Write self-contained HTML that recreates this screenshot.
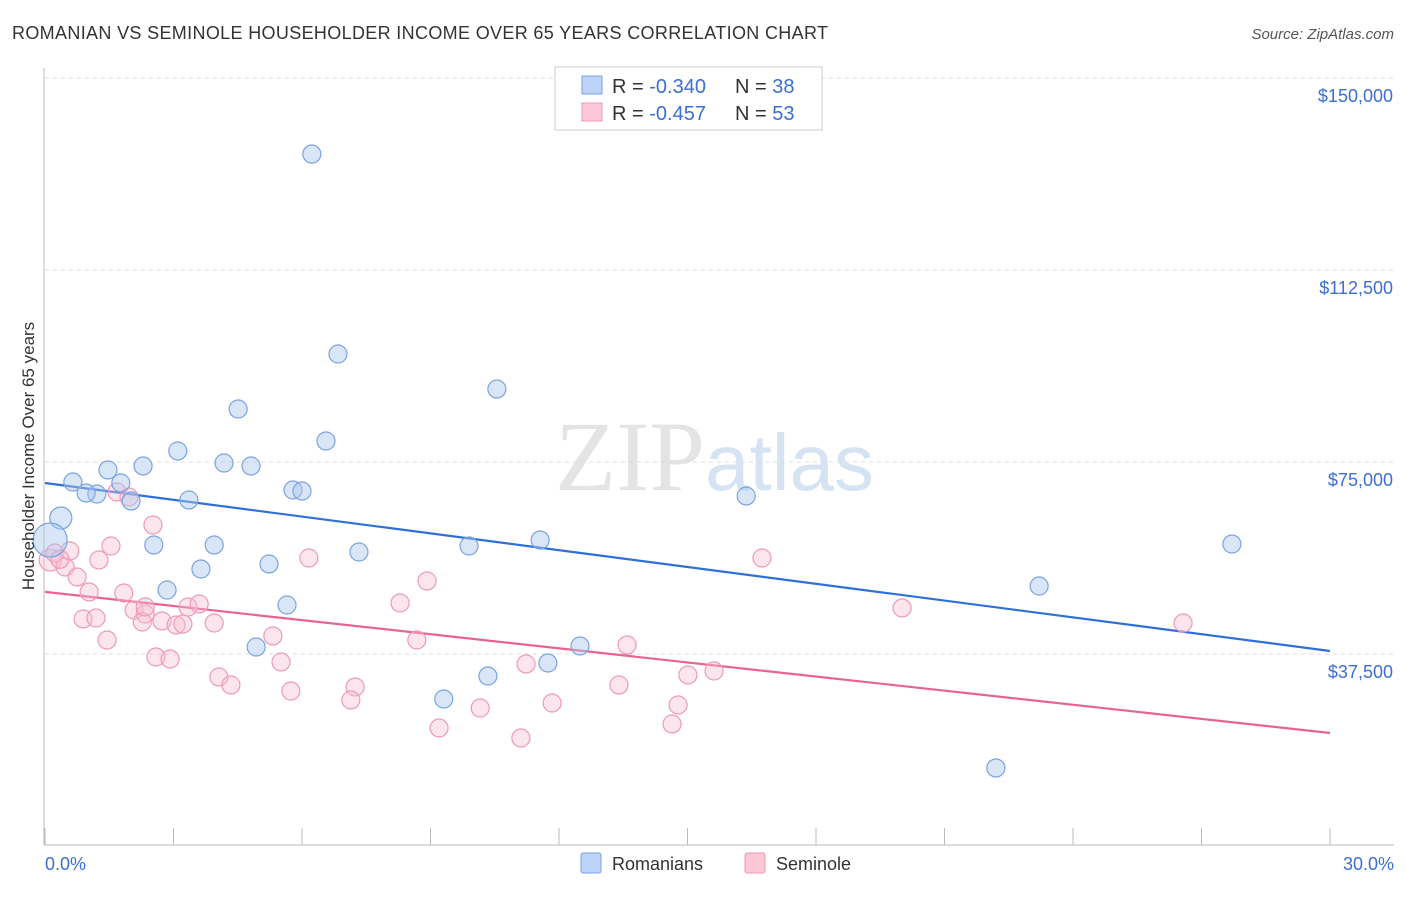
<!DOCTYPE html>
<html><head><meta charset="utf-8"><style>
body{margin:0;background:#fff;font-family:"Liberation Sans",sans-serif;}
</style></head><body>
<svg id="chart" width="1406" height="892" xmlns="http://www.w3.org/2000/svg">
<text x="12" y="39" font-size="18" fill="#333" textLength="816">ROMANIAN VS SEMINOLE HOUSEHOLDER INCOME OVER 65 YEARS CORRELATION CHART</text>
<text x="1394" y="39" font-size="15" fill="#555" font-style="italic" text-anchor="end">Source: ZipAtlas.com</text>
<text x="555" y="490" font-size="100" fill="#e4e4e4" font-family="Liberation Serif,serif">ZIP<tspan fill="#d5e3f3" font-family="Liberation Sans,sans-serif" font-size="80">atlas</tspan></text>
<g id="grid"></g>
<g id="axes"></g>
<g id="lines"></g>
<g id="pts"></g>
<text transform="translate(34,456) rotate(-90)" font-size="17" fill="#333" text-anchor="middle">Householder Income Over 65 years</text>
<text x="45" y="870" font-size="18" fill="#3b6fd4">0.0%</text>
<text x="1394" y="870" font-size="18" fill="#3b6fd4" text-anchor="end">30.0%</text>
<g>
<rect x="555" y="67" width="267" height="63" fill="#fff" stroke="#ccc"/>
<rect x="582" y="76" width="20" height="18" fill="#bcd4f5" stroke="#7aa3e0"/>
<rect x="582" y="103" width="20" height="18" fill="#fbc8d8" stroke="#ee9ab5"/>
<text x="612" y="93" font-size="20" fill="#333">R = <tspan fill="#3b6fd4">-0.340</tspan><tspan x="735">N = </tspan><tspan fill="#3b6fd4">38</tspan></text>
<text x="612" y="120" font-size="20" fill="#333">R = <tspan fill="#3b6fd4">-0.457</tspan><tspan x="735">N = </tspan><tspan fill="#3b6fd4">53</tspan></text>
</g>
<g>
<rect x="581" y="853" width="20" height="20" fill="#bcd4f5" stroke="#7aa3e0" rx="2"/>
<text x="612" y="870" font-size="18" fill="#333">Romanians</text>
<rect x="745" y="853" width="20" height="20" fill="#fbc8d8" stroke="#ee9ab5" rx="2"/>
<text x="776" y="870" font-size="18" fill="#333">Seminole</text>
</g>
</svg>
<script>
const yTicks=[37500,75000,112500,150000];
const yTickLabels=["$37,500","$75,000","$112,500","$150,000"];
const xTicks=[0,3,6,9,12,15,18,21,24,27,30];
const blueX=[6.23,6.84,10.55,4.51,6.56,3.10,4.18,4.81,2.29,1.47,0.65,1.77,1.21,0.96,5.79,6.00,3.36,2.01,16.37,0.37,0.12,2.54,3.95,9.90,11.56,27.71,7.33,3.64,5.23,2.85,23.21,5.65,4.93,12.49,11.74,10.34,9.31,22.20];
const blueY=[135150,96090,89250,85350,79100,77150,74800,74220,74220,73440,71090,70900,68750,68950,69530,69330,67580,67380,68360,64060,59760,58790,58790,58590,59760,58980,57420,54100,55080,50000,50780,47070,38870,39060,35740,33200,28710,15240];
const pinkX=[0.12,0.23,0.58,0.47,0.75,1.26,1.54,1.03,1.84,1.68,1.96,2.52,0.89,1.19,1.45,2.08,2.34,2.27,2.73,3.06,3.22,3.34,3.60,3.95,2.59,2.92,5.32,5.51,4.06,4.34,5.74,6.16,7.24,7.14,8.29,8.92,8.68,9.20,10.16,11.23,11.11,11.84,13.59,13.40,15.01,15.62,14.78,14.64,16.74,20.01,26.57,0.35,2.34];
const pinkY=[55860,57230,57620,54490,52540,55860,58590,49610,49410,69140,68160,62700,44340,44530,40230,46090,45310,43750,43950,43160,43360,46680,47270,43550,36910,36520,41020,35940,33010,31450,30270,56250,31050,28520,47460,51760,40230,23050,26950,35550,21090,27930,39260,31450,33400,34180,27540,23830,56250,46480,43550,56000,46700];
const blueTrend=[70900,38090];
const pinkTrend=[49630,22070];
const NS="http://www.w3.org/2000/svg";
const xs=v=>45+v/30*1285;
const ys=v=>654-(v-37500)*192/37500;
function mk(tag,attrs,parent){const e=document.createElementNS(NS,tag);for(const k in attrs)e.setAttribute(k,attrs[k]);document.getElementById(parent).appendChild(e);return e;}
yTicks.forEach((t,i)=>{
  const l=mk('line',{x1:45,x2:1394,y1:ys(t),y2:ys(t),stroke:'#ddd','stroke-dasharray':'4,4'},'grid');
  
  
  const tx=mk('text',{x:1393,y:ys(t)+24,'font-size':18,fill:'#3b6fd4','text-anchor':'end'},'grid');
  tx.textContent=yTickLabels[i];
  
  
});
const ya=mk('line',{x1:44,x2:44,y1:68,y2:845,stroke:'#bbb'},'axes');


const xa=mk('line',{x1:44,x2:1394,y1:845,y2:845,stroke:'#bbb'},'axes');


xTicks.forEach(t=>{
  const l=mk('line',{x1:xs(t),x2:xs(t),y1:828,y2:845,stroke:'#bbb'},'axes');
  
  
});
function pts(X,Y,fill,stroke,name,bigMap){
  X.forEach((x,i)=>{
    const r=bigMap[i]||9;
    const c=mk('circle',{cx:xs(x),cy:ys(Y[i]),r:r,fill:fill,stroke:stroke,'stroke-width':1.2},'pts');
    
    
  });
}
pts(pinkX,pinkY,'rgba(248,190,210,0.4)','#ee9ab5','seminole-point',{0:11});
pts(blueX,blueY,'rgba(170,200,240,0.45)','#7aa3e0','romanian-point',{19:11,20:17});
const bl=mk('line',{x1:xs(0),y1:ys(blueTrend[0]),x2:xs(30),y2:ys(blueTrend[1]),stroke:'#2f6fd8','stroke-width':2.2},'lines');


const pl=mk('line',{x1:xs(0),y1:ys(pinkTrend[0]),x2:xs(30),y2:ys(pinkTrend[1]),stroke:'#e8648f','stroke-width':2.2},'lines');


</script>
</body></html>
